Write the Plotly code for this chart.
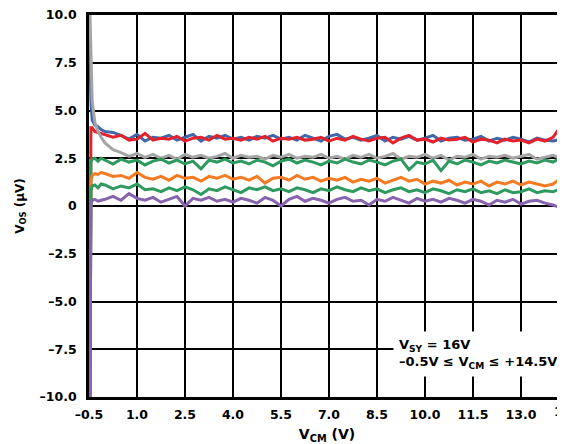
"""Offset voltage vs. common-mode voltage (VSY = 16V)."""

import numpy as np
import plotly.graph_objects as go

# common-mode voltage samples (V): dense near the rail, then 0.25 V steps
VCM_HEAD = [-0.5, -0.47, -0.44, -0.4, -0.32, -0.22, -0.12]
VCM_MAIN = np.round(np.arange(0.0, 14.51, 0.25), 2).tolist()
VCM = VCM_HEAD + VCM_MAIN

# offset voltage per unit (uV)
VOS_BLUE = [10.5, 8.0, 5.5, 4.5, 4.25, 4.15, 4.0,
            3.9, 3.85, 3.7, 3.5, 3.75, 3.4, 3.6, 3.55, 3.7, 3.45,
            3.6, 3.75, 3.4, 3.65, 3.55, 3.7, 3.5, 3.6, 3.45, 3.65,
            3.55, 3.7, 3.5, 3.6, 3.45, 3.7, 3.55, 3.4, 3.65, 3.75,
            3.5, 3.6, 3.45, 3.55, 3.7, 3.4, 3.6, 3.5, 3.65, 3.45,
            3.55, 3.7, 3.4, 3.55, 3.6, 3.45, 3.5, 3.65, 3.4, 3.55,
            3.45, 3.6, 3.5, 3.35, 3.55, 3.45, 3.4, 3.5, 3.45]
VOS_RED = [-10.5, -10.0, 4.1, 4.1, 3.9, 3.85, 3.8,
           3.75, 3.6, 3.7, 3.45, 3.5, 3.8, 3.45, 3.55, 3.5, 3.65,
           3.4, 3.55, 3.6, 3.45, 3.7, 3.5, 3.55, 3.45, 3.6, 3.5,
           3.65, 3.4, 3.55, 3.5, 3.6, 3.45, 3.5, 3.6, 3.4, 3.55,
           3.45, 3.65, 3.5, 3.4, 3.55, 3.6, 3.3, 3.55, 3.7, 3.45,
           3.5, 3.35, 3.55, 3.45, 3.5, 3.6, 3.35, 3.5, 3.45, 3.3,
           3.5, 3.4, 3.45, 3.3, 3.5, 3.4, 3.6, 4.2, 5.0]
VOS_GRAY = [12.0, 10.0, 7.5, 5.5, 4.4, 3.9, 3.6,
            3.3, 2.95, 2.8, 2.6, 2.75, 2.55, 2.7, 2.5, 2.65, 2.45,
            2.7, 2.55, 2.65, 2.5, 2.6, 2.75, 2.5, 2.65, 2.55, 2.6,
            2.45, 2.65, 2.55, 2.7, 2.5, 2.6, 2.55, 2.7, 2.5, 2.6,
            2.45, 2.65, 2.55, 2.7, 2.5, 2.6, 2.75, 2.45, 2.6, 2.55,
            2.7, 2.5, 2.65, 2.4, 2.6, 2.55, 2.7, 2.45, 2.6, 2.55,
            2.65, 2.5, 2.6, 2.7, 2.45, 2.55, 2.65, 2.5, 2.6]
VOS_GREEN_HI = [-10.5, -10.0, 2.3, 2.45, 2.5, 2.35, 2.5,
                2.4, 2.2, 2.45, 2.3, 2.4, 2.15, 2.35, 2.45, 2.25, 2.4,
                2.2, 2.35, 1.95, 2.4, 2.3, 2.45, 2.25, 2.35, 2.2, 2.4,
                2.3, 2.1, 2.35, 2.45, 2.25, 2.4, 2.3, 2.15, 2.35, 2.25,
                2.45, 2.3, 2.2, 2.4, 2.3, 2.15, 2.35, 2.45, 1.9, 2.3,
                2.2, 2.4, 1.85, 2.35, 2.2, 2.4, 2.3, 2.15, 2.35, 2.25,
                2.4, 2.3, 2.2, 2.35, 2.25, 2.4, 2.3, 2.55, 2.8]
VOS_ORANGE = [-10.5, -10.0, 1.3, 1.6, 1.7, 1.65, 1.75,
              1.7, 1.55, 1.6, 1.45, 1.75, 1.5, 1.4, 1.55, 1.35, 1.6,
              1.45, 1.5, 1.3, 1.55, 1.45, 1.6, 1.4, 1.5, 1.35, 1.55,
              1.2, 1.45, 1.5, 1.35, 1.6, 1.4, 1.5, 1.3, 1.45, 1.35,
              1.5, 1.25, 1.4, 1.3, 1.45, 1.2, 1.35, 1.5, 1.3, 1.4,
              1.15, 1.3, 1.2, 1.35, 1.1, 1.25, 1.15, 1.3, 1.05, 1.25,
              1.15, 1.3, 1.1, 1.25, 1.15, 1.05, 1.15, 1.45, 1.9]
VOS_GREEN_LO = [-10.5, -10.0, 0.8, 1.05, 1.1, 0.95, 1.15,
                1.1, 0.9, 1.05, 0.95, 1.15, 0.85, 0.9, 0.75, 0.95, 0.8,
                1.0, 0.85, 0.6, 0.9, 0.8, 1.0, 0.85, 0.7, 0.95, 0.85,
                1.0, 0.8, 0.9, 0.75, 0.95, 0.85, 0.7, 0.9, 0.8, 1.0,
                0.85, 0.75, 0.95, 0.8, 0.9, 0.7, 0.85, 0.95, 0.75, 0.85,
                0.7, 0.9, 0.8, 0.65, 0.85, 0.75, 0.9, 0.7, 0.8, 0.65,
                0.85, 0.7, 0.75, 0.9, 0.7, 0.8, 0.75, 0.9, 1.0]
VOS_PURPLE = [-10.5, -10.0, 0.1, 0.3, 0.35, 0.25, 0.3,
              0.35, 0.5, 0.3, 0.65, 0.4, 0.3, 0.45, 0.2, 0.35, 0.5,
              0.0, 0.4, 0.3, 0.45, 0.25, 0.35, 0.2, 0.4, 0.3, 0.15,
              0.45, 0.3, 0.0, 0.35, 0.5, 0.25, 0.4, 0.3, 0.15, 0.35,
              0.45, 0.25, 0.3, 0.05, 0.35, 0.25, 0.45, 0.3, 0.15, 0.4,
              0.25, 0.35, 0.2, 0.4, 0.3, 0.15, 0.35, 0.25, 0.05, 0.3,
              0.2, 0.35, 0.1, 0.25, 0.3, 0.15, 0.05, -0.1, -0.3]

X_TICKS = [-0.5, 1.0, 2.5, 4.0, 5.5, 7.0, 8.5, 10.0, 11.5, 13.0, 14.5]
X_TICKTEXT = ["–0.5", "1.0", "2.5", "4.0", "5.5", "7.0", "8.5", "10.0", "11.5", "13.0", "14.5"]
Y_TICKS = [10.0, 7.5, 5.0, 2.5, 0.0, -2.5, -5.0, -7.5, -10.0]
Y_TICKTEXT = ["10.0", "7.5", "5.0", "2.5", "0", "–2.5", "–5.0", "–7.5", "–10.0"]

series = [
    (VOS_BLUE, "#3f67a9"),
    (VOS_RED, "#e3222b"),
    (VOS_GRAY, "#a5a5a5"),
    (VOS_GREEN_HI, "#2f9a5f"),
    (VOS_ORANGE, "#f47b22"),
    (VOS_GREEN_LO, "#2f9a5f"),
    (VOS_PURPLE, "#8764ad"),
]

FONT = "DejaVu Sans, Verdana, sans-serif"

fig = go.Figure()
for vos, color in series:
    assert len(vos) == len(VCM)
    fig.add_trace(go.Scatter(
        x=VCM, y=vos,
        mode="lines",
        line=dict(color=color, width=3),
        hoverinfo="skip",
    ))

# the page body adds 8 px around the figure; plot spans 81..557 px of the figure,
# 32 px per volt, so the right edge (14.5 V) falls just past the window
FIG_W, FIG_H = 557, 436
L, T, B = 81, 7, 47
x_hi = -0.5 + (FIG_W - L) / 32.0

fig.update_layout(
    width=FIG_W,
    height=FIG_H,
    margin=dict(l=L, r=0, t=T, b=B),
    paper_bgcolor="white",
    plot_bgcolor="white",
    showlegend=False,
    font=dict(family=FONT, color="black", size=12),
    xaxis=dict(
        range=[-0.5, x_hi],
        automargin=False,
        tickvals=X_TICKS,
        ticktext=X_TICKTEXT,
        tickfont=dict(size=12.5, weight="bold"),
        ticks="",
        ticklabelstandoff=4,
        ticklabeloverflow="allow",
        showgrid=True,
        gridcolor="black",
        gridwidth=1.8,
        zeroline=False,
        showline=True,
        linecolor="black",
        linewidth=2.8,
        mirror=True,
        title=dict(text="V<sub>CM</sub> (V)", font=dict(size=14, weight="bold"), standoff=16),
    ),
    yaxis=dict(
        range=[-10, 10],
        automargin=False,
        tickvals=Y_TICKS,
        ticktext=Y_TICKTEXT,
        tickfont=dict(size=12.5, weight="bold"),
        ticks="",
        ticklabelstandoff=7,
        ticklabeloverflow="allow",
        showgrid=True,
        gridcolor="black",
        gridwidth=1.8,
        zeroline=False,
        showline=True,
        linecolor="black",
        linewidth=2.8,
        title=dict(text="V<sub>OS</sub> (µV)", font=dict(size=12, weight="bold"), standoff=13),
    ),
    annotations=[
        dict(
            text="V<sub>SY</sub> = 16V<br>–0.5V ≤ V<sub>CM</sub> ≤ +14.5V",
            xref="x", yref="y",
            x=9.0, y=-7.75,
            xanchor="left", yanchor="middle",
            align="left",
            showarrow=False,
            bgcolor="white",
            borderpad=5,
            font=dict(size=13, weight="bold", family=FONT, color="black"),
        ),
        # last tick label sits past the window edge, so only its left half shows
        dict(
            text="14.5",
            xref="paper", yref="paper",
            x=(14.5 + 0.5) * 32.0 / (FIG_W - L), y=0,
            xanchor="center", yanchor="top",
            yshift=-5,
            showarrow=False,
            font=dict(size=12.5, weight="bold", family=FONT, color="black"),
        ),
    ],
)

fig.write_html("out.html")
